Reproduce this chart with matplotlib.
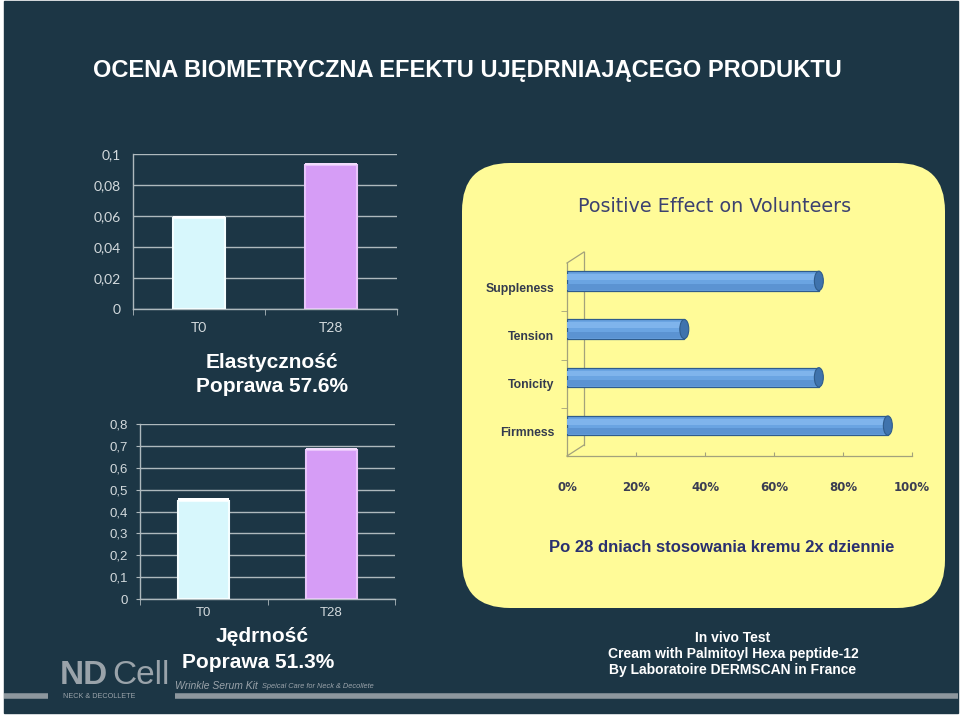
import matplotlib
import matplotlib.pyplot as plt
from matplotlib.patches import Rectangle, FancyBboxPatch, Ellipse
from matplotlib.ticker import FixedLocator

matplotlib.use('Agg')

# --- data ---
time_points = ['T0', 'T28']
elasticity = [0.059, 0.093]
firmness_vals = [0.45, 0.68]
effect_labels = ['Suppleness', 'Tension', 'Tonicity', 'Firmness']
effect_values = [73, 34, 73, 93]
elastic_ticks = [0, 0.02, 0.04, 0.06, 0.08, 0.1]
firm_ticks = [0, 0.1, 0.2, 0.3, 0.4, 0.5, 0.6, 0.7, 0.8]
pct_ticks = [0, 20, 40, 60, 80, 100]

BG = '#1c3645'
LIGHT = '#d3dadd'
GRID = '#aeb9bd'
W, H = 960, 716


def fx(px):
    return px / W


def fy(py):
    return 1 - py / H


def comma(v):
    s = ('%g' % v).replace('.', ',')
    return s


fig = plt.figure(figsize=(9.6, 7.16), dpi=100, facecolor='white')

# page background in pixel units
bg = fig.add_axes([0, 0, 1, 1])
bg.set_xlim(0, W)
bg.set_ylim(H, 0)
bg.axis('off')
bg.add_patch(Rectangle((4, 1), 954, 712, color=BG, zorder=0))
bg.add_patch(FancyBboxPatch((462, 163), 483, 445,
                            boxstyle='round,pad=0,rounding_size=48',
                            facecolor='#fffb98', edgecolor='none', zorder=1))
# footer lines
bg.plot([4, 48], [696, 696], color='#8d979e', lw=4, solid_capstyle='butt')
bg.plot([175, 958], [696, 696], color='#8d979e', lw=4, solid_capstyle='butt')

fig.text(fx(93), fy(70), 'OCENA BIOMETRYCZNA EFEKTU UJĘDRNIAJĄCEGO PRODUKTU',
         color='white', fontsize=17, weight='bold', family='Liberation Sans',
         va='center')

# logo
fig.text(fx(60), fy(676), 'ND', color='#9aa3aa', fontsize=24, weight='bold',
         family='Liberation Sans', va='center')
fig.text(fx(112), fy(676), 'Cell', color='#9aa3aa', fontsize=24,
         family='Liberation Sans', va='center')
fig.text(fx(63), fy(697), 'NECK & DECOLLETE', color='#9aa3aa', fontsize=5.2,
         family='Liberation Sans', va='center')
fig.text(fx(175), fy(686), 'Wrinkle Serum Kit', color='#9aa3aa', fontsize=7.5,
         style='italic', family='Liberation Sans', va='center')
fig.text(fx(262), fy(687), 'Speical Care for Neck & Decollete', color='#9aa3aa',
         fontsize=5.3, style='italic', family='Liberation Sans', va='center')


def style_column_axes(ax, ticks, tick_font, tick_size):
    ax.set_facecolor('none')
    ax.set_xlim(-0.5, 1.5)
    ax.set_ylim(ticks[0], ticks[-1])
    ax.set_yticks(ticks)
    ax.set_yticklabels([comma(t) for t in ticks])
    ax.set_xticks(range(len(time_points)))
    ax.set_xticklabels(time_points)
    ax.xaxis.set_minor_locator(FixedLocator([-0.5, 0.5, 1.5]))
    ax.tick_params(axis='x', which='major', length=0, pad=9, colors=LIGHT,
                   labelsize=tick_size)
    ax.tick_params(axis='x', which='minor', length=4, direction='out', color=GRID)
    ax.tick_params(axis='y', length=0, pad=9, colors=LIGHT, labelsize=tick_size)
    for lab in ax.get_xticklabels() + ax.get_yticklabels():
        lab.set_family(tick_font)
    ax.grid(axis='y', color=GRID, lw=1)
    ax.set_axisbelow(True)
    for side in ['top', 'right']:
        ax.spines[side].set_visible(False)
    for side in ['left', 'bottom']:
        ax.spines[side].set_color(GRID)
        ax.spines[side].set_linewidth(1)


def draw_columns(ax, values, width):
    ax.bar(range(len(values)), values, width=width, color=['#d7f7fc', '#d69df6'],
           edgecolor=['#f4feff', '#e9c4fb'], linewidth=1.5, zorder=3)
    top = ax.get_ylim()[1]
    ax.bar(range(len(values)), [top * 0.012] * len(values), bottom=values,
           width=width, color=['#ffffff', '#f3dcfd'], linewidth=0, zorder=3.5)


# elasticity chart
ax1 = fig.add_axes([fx(133), fy(309), fx(264), 155 / H])
style_column_axes(ax1, elastic_ticks, 'Lato', 10)
draw_columns(ax1, elasticity, 0.39)
ax1.set_ylim(elastic_ticks[0], elastic_ticks[-1])
fig.text(fx(272), fy(362), 'Elastyczność', color='white', fontsize=15,
         weight='bold', family='Liberation Sans', ha='center', va='center')
fig.text(fx(272), fy(387), 'Poprawa 57.6%', color='white', fontsize=15,
         weight='bold', family='Liberation Sans', ha='center', va='center')

# firmness chart
ax2 = fig.add_axes([fx(140), fy(599), fx(255), 175 / H])
style_column_axes(ax2, firm_ticks, 'Liberation Sans', 9.5)
draw_columns(ax2, firmness_vals, 0.4)
ax2.set_ylim(firm_ticks[0], firm_ticks[-1])
ax2.tick_params(axis='y', length=3, direction='out', color=GRID, pad=6)
ax2.tick_params(axis='x', which='major', pad=6)
fig.text(fx(262), fy(637), 'Jędrność', color='white', fontsize=15,
         family='Liberation Sans', ha='center', va='center', weight='bold')
fig.text(fx(258), fy(662), 'Poprawa 51.3%', color='white', fontsize=15,
         family='Liberation Sans', ha='center', va='center', weight='bold')

# right panel: positive effect
ax3 = fig.add_axes([fx(567), fy(456), fx(345), 193 / H])
ax3.set_facecolor('none')
ypos = list(range(len(effect_labels)))[::-1]
bar_h = 0.4
shift = 0.13
ax3.barh([y + shift for y in ypos], effect_values, height=bar_h,
         color='#6aa4e2', edgecolor='#2f5c8c', linewidth=0.9, zorder=3)
for y, v in zip(ypos, effect_values):
    ax3.barh(y + shift + bar_h * 0.2, v, height=bar_h * 0.3,
             color='#7fb4ec', linewidth=0, zorder=3.5)
    ax3.barh(y + shift - bar_h * 0.3, v, height=bar_h * 0.3,
             color='#5b93d2', linewidth=0, zorder=3.5)
    ax3.add_patch(Ellipse((v, y + shift), 2.6, bar_h, facecolor='#3f73ad',
                          edgecolor='#2f5c8c', lw=0.8, zorder=4))
ax3.set_xlim(0, 100)
ax3.set_ylim(-0.5, 3.5)
ax3.set_xticks(pct_ticks)
ax3.set_xticklabels(['%d%%' % t for t in pct_ticks])
ax3.set_yticks(ypos)
ax3.set_yticklabels(effect_labels)
ax3.yaxis.set_minor_locator(FixedLocator([0.5, 1.5, 2.5]))
ax3.tick_params(axis='x', length=3, direction='in', color='#a3a27c', pad=18,
                labelcolor='#3b3d52', labelsize=8.5)
ax3.tick_params(axis='y', which='major', length=0, pad=9,
                labelcolor='#333a4e', labelsize=8.8)
ax3.tick_params(axis='y', which='minor', length=4, direction='out',
                color='#a3a27c')
for lab in ax3.get_xticklabels():
    lab.set_weight('bold')
    lab.set_family('DejaVu Sans')
for lab in ax3.get_yticklabels():
    lab.set_weight('bold')
    lab.set_family('Liberation Sans')
for side in ['top', 'right']:
    ax3.spines[side].set_visible(False)
for side in ['left', 'bottom']:
    ax3.spines[side].set_color('#a3a27c')
    ax3.spines[side].set_linewidth(0.9)
# 3d back wall outline
dx, dy = 17 / 345, 11 / 193
wall = dict(color='#a3a27c', lw=0.9, transform=ax3.transAxes, clip_on=False)
ax3.plot([dx, dx], [dy, 1 + dy], **wall)
ax3.plot([0, dx], [0, dy], **wall)
ax3.plot([0, dx], [1, 1 + dy], **wall)

fig.text(fx(715), fy(207), 'Positive Effect on Volunteers', color='#3c4170',
         fontsize=13.8, family='DejaVu Sans', ha='center', va='center')
fig.text(fx(722), fy(547), 'Po 28 dniach stosowania kremu 2x dziennie',
         color='#2a3070', fontsize=12, weight='bold', family='Liberation Sans',
         ha='center', va='center')

for i, line in enumerate(['In vivo Test', 'Cream with Palmitoyl Hexa peptide-12',
                          'By Laboratoire DERMSCAN in France']):
    fig.text(fx(733), fy(638 + 16 * i), line, color='white', fontsize=10,
             weight='bold', family='Liberation Sans', ha='center', va='center')

fig.savefig('out.png', dpi=100, facecolor='white')
